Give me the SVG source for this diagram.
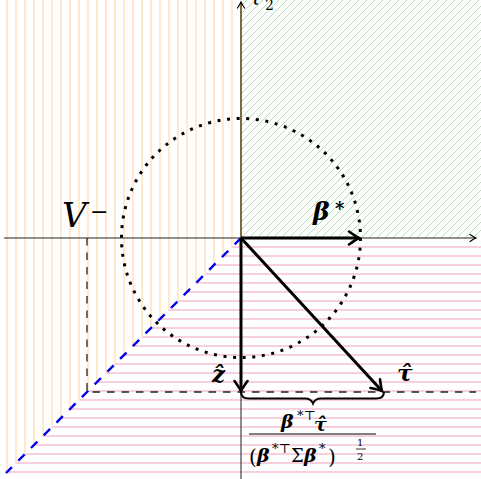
<svg xmlns="http://www.w3.org/2000/svg" width="481" height="479" viewBox="0 0 481 479">
<style>
.m{font-family:"DejaVu Serif","Liberation Serif",serif;font-style:italic;font-weight:bold;fill:#000}
.r{font-family:"DejaVu Serif","Liberation Serif",serif;fill:#000}
.ax{stroke:#222;stroke-width:1.2;fill:none}
.vec{stroke:#000;stroke-width:3;fill:none}
.dash{stroke:#222;stroke-width:1.3;stroke-dasharray:7.5 7;fill:none}
</style>
<defs>
<pattern id="grn" patternUnits="userSpaceOnUse" width="8" height="8" x="241" y="238">
<path d="M-1,9 L9,-1 M-1,1 L1,-1 M7,9 L9,7" stroke="#a6dba6" stroke-width="0.9"/>
</pattern>
<clipPath id="orC"><polygon points="0,0 241,0 241,238 0,479"/></clipPath>
<clipPath id="pkC"><polygon points="241,238 481,238 481,479 0,479"/></clipPath>
<marker id="big" viewBox="-12 -8 14 16" markerWidth="14" markerHeight="16" refX="0" refY="0" orient="auto" markerUnits="userSpaceOnUse">
<path d="M-10,-6.5 Q-3,-1.5 0,0 Q-3,1.5 -10,6.5" fill="none" stroke="#000" stroke-width="2.6" stroke-linecap="round"/>
</marker>
<marker id="sm" viewBox="-8 -5 10 10" markerWidth="10" markerHeight="10" refX="0" refY="0" orient="auto" markerUnits="userSpaceOnUse">
<path d="M-6,-3.5 Q-2,-0.8 0,0 Q-2,0.8 -6,3.5" fill="none" stroke="#000" stroke-width="1.2" stroke-linecap="round"/>
</marker>
</defs>

<g id="regions">
<rect id="green" x="241" y="0" width="240" height="238" fill="url(#grn)"/>
<g id="orange" clip-path="url(#orC)" stroke="#ffd9a0" stroke-width="1.1">
<path d="M232,0V479M223,0V479M214,0V479M205,0V479M196,0V479M187,0V479M178,0V479M169,0V479M160,0V479M151,0V479M142,0V479M133,0V479M124,0V479M115,0V479M106,0V479M97,0V479M88,0V479M79,0V479M70,0V479M61,0V479M52,0V479M43,0V479M34,0V479M25,0V479M16,0V479M7,0V479"/>
</g>
<g id="pink" clip-path="url(#pkC)" stroke="#f0a0c0" stroke-width="1.1">
<path d="M0,247H481M0,256H481M0,265H481M0,274H481M0,283H481M0,292H481M0,301H481M0,310H481M0,319H481M0,328H481M0,337H481M0,346H481M0,355H481M0,364H481M0,373H481M0,382H481M0,391H481M0,400H481M0,409H481M0,418H481M0,427H481M0,436H481M0,445H481M0,454H481M0,463H481M0,472H481"/>
</g>
</g>

<g id="connectors">
<line class="ax" x1="4" y1="238" x2="476" y2="238" marker-end="url(#sm)"/>
<line x1="241" y1="479" x2="241" y2="238" stroke="#444" stroke-width="1.2"/>
<line x1="241" y1="238" x2="241" y2="2" stroke="#6e5c30" stroke-width="1.8" marker-end="url(#sm)"/>
<line id="vminus" x1="241" y1="238" x2="6" y2="473" stroke="#0000ee" stroke-width="2.4" stroke-dasharray="9 9"/>
<circle cx="241" cy="238" r="119.5" fill="none" stroke="#000" stroke-width="3" stroke-dasharray="3 6.63"/>
<path class="dash" d="M87,238 V392 H476"/>
<line class="vec" x1="241" y1="238" x2="359" y2="238" marker-end="url(#big)"/>
<line class="vec" x1="241" y1="238" x2="241" y2="391" marker-end="url(#big)"/>
<line class="vec" x1="241" y1="238" x2="382" y2="391" marker-end="url(#big)"/>
<path id="brace" d="M241,392 q0,6.5 8,6.5 L305,398.5 q6,0 8,5 q2,-5 8,-5 L376,398.5 q8,0 8,-6.5" fill="none" stroke="#000" stroke-width="2"/>
</g>

<g id="labels">
<text class="r" font-style="italic" x="250" y="5" font-size="20">τ<tspan x="265" y="10" font-style="normal" font-size="14">2</tspan></text>
<text class="r" font-family="Liberation Serif" font-style="italic" x="62" y="227" font-size="34">V</text>
<text class="r" x="90" y="219" font-size="22">−</text>
<text class="m" x="313" y="220" font-size="25">β</text>
<text class="m" x="335" y="215" font-size="18">*</text>
<text class="m" x="212" y="382" font-size="23">ẑ</text>
<text class="m" x="397" y="381" font-size="23">τ̂</text>
</g>

<g id="fraction">
<text class="m" x="281" y="428" font-size="19">β</text>
<text class="r" x="297" y="420" font-size="13">*⊤</text>
<text class="m" x="314" y="431" font-size="19">τ̂</text>
<line x1="249" y1="434" x2="376" y2="434" stroke="#000" stroke-width="1"/>
<text class="r" x="249" y="464" font-size="20">(</text>
<text class="m" x="257" y="462" font-size="19">β</text>
<text class="r" x="272" y="453" font-size="13">*⊤</text>
<text class="r" x="291" y="462" font-size="18">Σ</text>
<text class="m" x="304" y="462" font-size="19">β</text>
<text class="r" x="319" y="453" font-size="13">*</text>
<text class="r" x="328" y="464" font-size="20">)</text>
<text class="r" x="357" y="446" font-size="10">1</text>
<line x1="356" y1="449" x2="366" y2="449" stroke="#000" stroke-width="0.8"/>
<text class="r" x="357" y="460" font-size="10">2</text>
</g>
</svg>
